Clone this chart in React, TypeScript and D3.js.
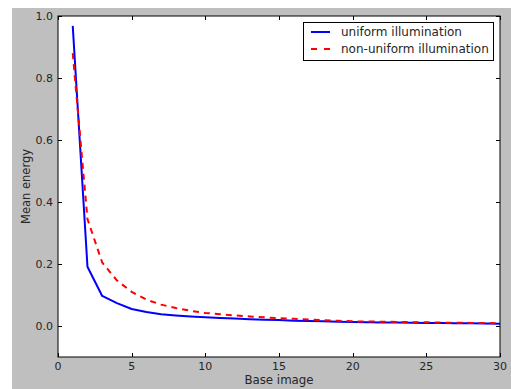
import { useRef, useEffect } from 'react';
import * as d3 from 'd3';

// Base image index 1..30
const baseImages = d3.range(1, 31);

// Mean energy
const uniform = [
  0.968, 0.191, 0.097, 0.074, 0.055, 0.045, 0.038, 0.034, 0.031, 0.028,
  0.026, 0.024, 0.022, 0.02, 0.019, 0.017, 0.016, 0.015, 0.014, 0.013,
  0.012, 0.0115, 0.011, 0.0105, 0.01, 0.0095, 0.009, 0.0085, 0.008, 0.0075,
];
const nonUniform = [
  0.88, 0.345, 0.205, 0.147, 0.11, 0.085, 0.069, 0.058, 0.049, 0.042,
  0.038, 0.034, 0.031, 0.028, 0.025, 0.023, 0.021, 0.019, 0.017, 0.015,
  0.0145, 0.014, 0.013, 0.0125, 0.012, 0.011, 0.0105, 0.01, 0.0095, 0.009,
];

const xTicks = [0, 5, 10, 15, 20, 25, 30];
const yTicks = [0.0, 0.2, 0.4, 0.6, 0.8, 1.0];

const seriesNames = ['uniform illumination', 'non-uniform illumination'];

function EnergyChart() {
  const svgRef = useRef<SVGSVGElement>(null);

  useEffect(() => {
    if (!svgRef.current) return;
    const svg = d3.select(svgRef.current);
    svg.selectAll('*').remove();

    const width = 511;
    const height = 389;
    const font = 'DejaVu Sans, sans-serif';
    const textColor = '#262626';

    // figure background
    svg.append('rect')
      .attr('x', 12).attr('y', 8)
      .attr('width', width - 12).attr('height', height - 8)
      .attr('fill', '#bfbfbf');

    const left = 58, right = 500, top = 16, bottom = 357;

    const x = d3.scaleLinear().domain([0, 30]).range([left, right]);
    const y = d3.scaleLinear().domain([-0.1, 1.0]).range([bottom, top]);

    svg.append('rect')
      .attr('x', left).attr('y', top)
      .attr('width', right - left).attr('height', bottom - top)
      .attr('fill', '#fff');

    const line = d3.line<[number, number]>()
      .x((d) => x(d[0]))
      .y((d) => y(d[1]));

    const plot = svg.append('g');

    plot.append('path')
      .datum(baseImages.map((b, i) => [b, uniform[i]] as [number, number]))
      .attr('fill', 'none')
      .attr('stroke', '#0000ff')
      .attr('stroke-width', 2)
      .attr('stroke-linejoin', 'round')
      .attr('d', line);

    plot.append('path')
      .datum(baseImages.map((b, i) => [b, nonUniform[i]] as [number, number]))
      .attr('fill', 'none')
      .attr('stroke', '#ff0000')
      .attr('stroke-width', 2)
      .attr('stroke-dasharray', '6,5')
      .attr('d', line);

    // ticks pointing inwards on all four sides
    const tickLen = 4;
    const ticks = svg.append('g').attr('stroke', '#000').attr('stroke-width', 1);
    xTicks.forEach((t) => {
      const px = Math.round(x(t)) + 0.5;
      ticks.append('line').attr('x1', px).attr('x2', px).attr('y1', bottom).attr('y2', bottom - tickLen);
      ticks.append('line').attr('x1', px).attr('x2', px).attr('y1', top).attr('y2', top + tickLen);
    });
    yTicks.forEach((t) => {
      const py = Math.round(y(t)) + 0.5;
      ticks.append('line').attr('x1', left).attr('x2', left + tickLen).attr('y1', py).attr('y2', py);
      ticks.append('line').attr('x1', right).attr('x2', right - tickLen).attr('y1', py).attr('y2', py);
    });

    // frame
    svg.append('rect')
      .attr('x', left).attr('y', top)
      .attr('width', right - left).attr('height', bottom - top)
      .attr('fill', 'none')
      .attr('stroke', '#000')
      .attr('stroke-width', 1);

    // tick labels
    xTicks.forEach((t) => {
      svg.append('text')
        .attr('x', x(t)).attr('y', bottom + 13)
        .attr('text-anchor', 'middle')
        .attr('font-family', font).attr('font-size', 11)
        .attr('fill', textColor)
        .text(String(t));
    });
    yTicks.forEach((t) => {
      svg.append('text')
        .attr('x', left - 5).attr('y', y(t) + 4)
        .attr('text-anchor', 'end')
        .attr('font-family', font).attr('font-size', 11)
        .attr('fill', textColor)
        .text(t.toFixed(1));
    });

    // axis labels
    svg.append('text')
      .attr('x', (left + right) / 2).attr('y', 384)
      .attr('text-anchor', 'middle')
      .attr('font-family', font).attr('font-size', 11.8)
      .attr('fill', textColor)
      .text('Base image');

    svg.append('text')
      .attr('transform', `translate(29.5,${(top + bottom) / 2}) rotate(-90)`)
      .attr('text-anchor', 'middle')
      .attr('font-family', font).attr('font-size', 11.5)
      .attr('fill', textColor)
      .text('Mean energy');

    // legend
    const legend = svg.append('g').attr('transform', 'translate(303,22)');
    legend.append('rect')
      .attr('x', 0.5).attr('y', 0.5)
      .attr('width', 190).attr('height', 38)
      .attr('fill', '#fff')
      .attr('stroke', '#000')
      .attr('stroke-width', 1);

    legend.append('line')
      .attr('x1', 8).attr('x2', 27).attr('y1', 10).attr('y2', 10)
      .attr('stroke', '#0000ff').attr('stroke-width', 2);
    legend.append('line')
      .attr('x1', 8).attr('x2', 27).attr('y1', 27).attr('y2', 27)
      .attr('stroke', '#ff0000').attr('stroke-width', 2)
      .attr('stroke-dasharray', '6,7');

    seriesNames.forEach((name, i) => {
      legend.append('text')
        .attr('x', 38).attr('y', 14 + i * 17)
        .attr('font-family', font).attr('font-size', 12)
        .attr('fill', textColor)
        .text(name);
    });
  }, []);

  return <svg ref={svgRef} width={511} height={389} style={{ display: 'block' }} />;
}

export default function App() {
  useEffect(() => {
    document.body.style.margin = '0';
  }, []);
  return <EnergyChart />;
}
